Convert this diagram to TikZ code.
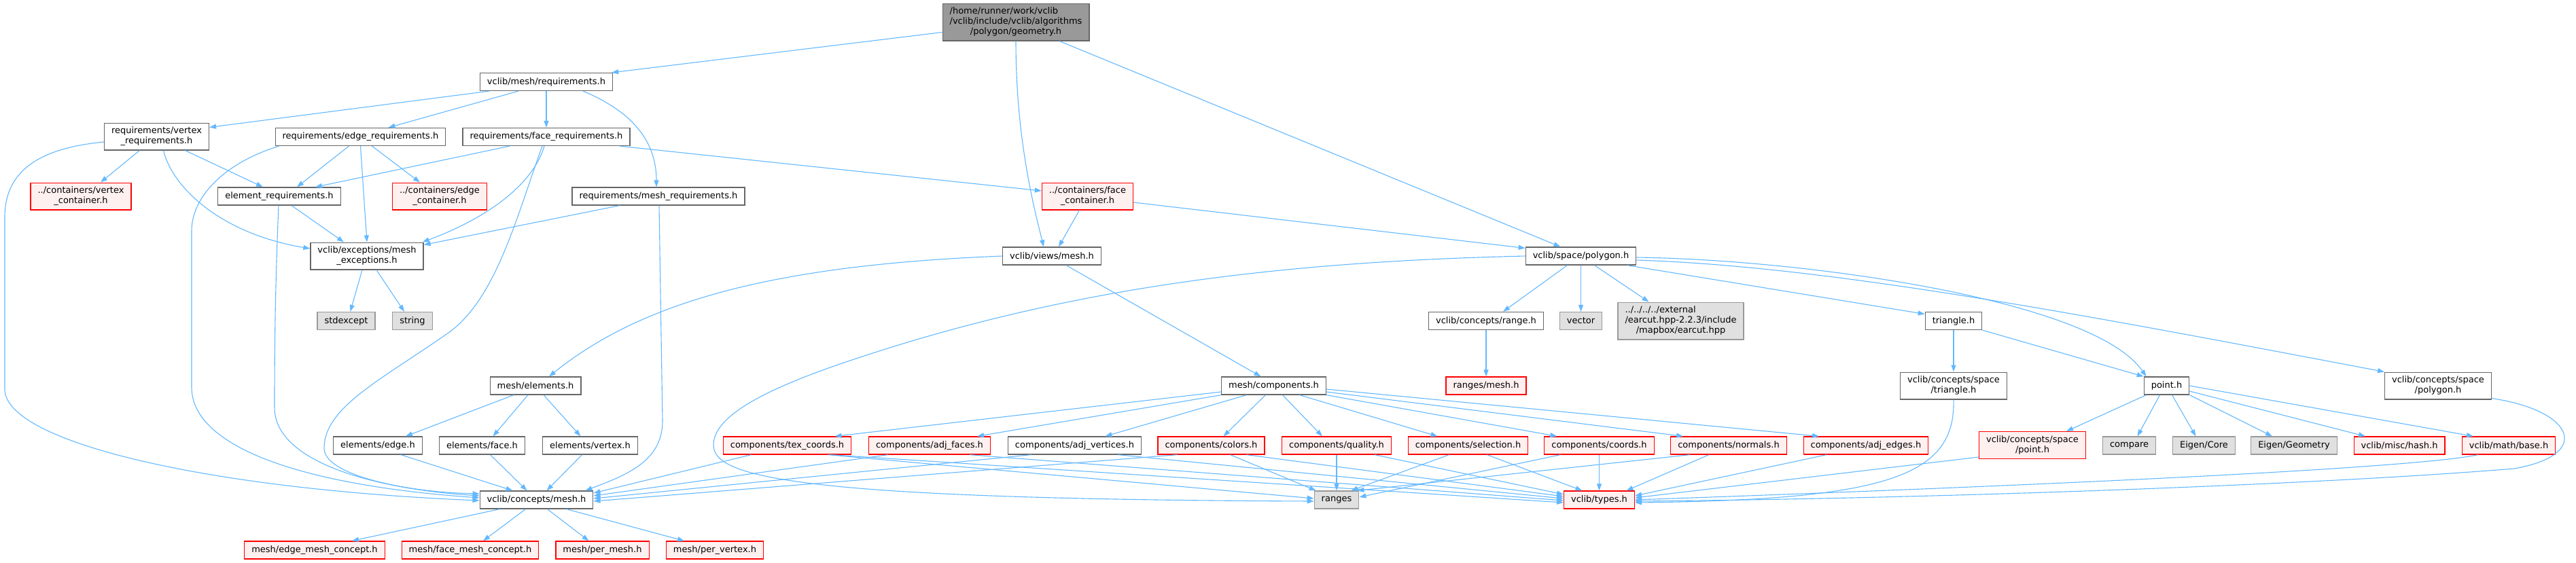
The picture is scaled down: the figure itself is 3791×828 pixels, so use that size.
\documentclass[tikz,border=0pt]{standalone}
\usepackage{fontspec}
\setmainfont{DejaVu Sans}
\usepackage{xcolor}
\usepackage{tikz}
\usetikzlibrary{arrows.meta}
\definecolor{incEdge}{HTML}{63B8FF}
\definecolor{incGrey}{HTML}{666666}
\definecolor{incRed}{HTML}{FF0000}
\definecolor{incRedFill}{HTML}{FFF0F0}
\definecolor{incSys}{HTML}{999999}
\definecolor{incSysFill}{HTML}{E0E0E0}
\definecolor{incRoot}{HTML}{999999}
\newcommand{\twoline}[2]{\begin{tabular}{@{}l@{}}#1\\\multicolumn{1}{@{}c@{}}{#2}\end{tabular}}
\newcommand{\threeline}[3]{\begin{tabular}{@{}l@{}}#1\\#2\\\multicolumn{1}{@{}c@{}}{#3}\end{tabular}}

\begin{document}
\begin{tikzpicture}[
  x=1pt,y=1pt,
  file/.style={rectangle,draw=incGrey,fill=white,line width=1.2pt,inner xsep=10.5pt,inner ysep=4.9pt,minimum height=26pt,align=center,font=\fontsize{13}{15}\selectfont},
  missing/.style={file,draw=incRed,fill=incRedFill},
  sysinc/.style={file,draw=incSys,fill=incSysFill},
  root/.style={file,fill=incRoot},
  inc/.style={-{Triangle[length=10pt,width=7pt]},draw=incEdge,line width=1.1pt}
]
\useasboundingbox (0,0) rectangle (3791,-828);
\node[root] (geom) at (1495,-32.5) {\threeline{/home/runner/work/vclib}{/vclib/include/vclib/algorithms}{/polygon/geometry.h}};
\node[file] (req) at (804,-120.5) {vclib/mesh/requirements.h};
\node[file] (vreq) at (230.5,-201) {\twoline{requirements/vertex}{\_requirements.h}};
\node[file] (ereq) at (530.5,-201.5) {requirements/edge\_requirements.h};
\node[file] (freq) at (804,-201.5) {requirements/face\_requirements.h};
\node[missing] (vcont) at (119,-289) {\twoline{../containers/vertex}{\_container.h}};
\node[file] (elreq) at (411,-289) {element\_requirements.h};
\node[missing] (econt) at (647,-289) {\twoline{../containers/edge}{\_container.h}};
\node[file] (mreq) at (969,-289) {requirements/mesh\_requirements.h};
\node[missing] (fcont) at (1600.5,-289) {\twoline{../containers/face}{\_container.h}};
\node[file] (exc) at (540,-377) {\twoline{vclib/exceptions/mesh}{\_exceptions.h}};
\node[file] (views) at (1548,-377) {vclib/views/mesh.h};
\node[file] (poly) at (2326.5,-377) {vclib/space/polygon.h};
\node[sysinc] (stdexc) at (509.5,-472.5) {stdexcept};
\node[sysinc] (str) at (607,-472.5) {string};
\node[file] (crange) at (2187,-472.5) {vclib/concepts/range.h};
\node[sysinc] (vec) at (2326.5,-472.5) {vector};
\node[sysinc] (earcut) at (2473.5,-472.5) {\threeline{../../../../external}{/earcut.hpp-2.2.3/include}{/mapbox/earcut.hpp}};
\node[file] (tri) at (2875,-472.5) {triangle.h};
\node[file] (elems) at (788,-568) {mesh/elements.h};
\node[file] (comps) at (1874.5,-568) {mesh/components.h};
\node[missing] (rmesh) at (2187,-568) {ranges/mesh.h};
\node[file] (cstri) at (2875,-568) {\twoline{vclib/concepts/space}{/triangle.h}};
\node[file] (pnt) at (3188.5,-568) {point.h};
\node[file] (cspoly) at (3588,-568) {\twoline{vclib/concepts/space}{/polygon.h}};
\node[file] (eedge) at (556,-656) {elements/edge.h};
\node[file] (eface) at (709.5,-656) {elements/face.h};
\node[file] (evert) at (868.5,-656) {elements/vertex.h};
\node[missing] (texc) at (1158.5,-656) {components/tex\_coords.h};
\node[missing] (adjf) at (1368,-656) {components/adj\_faces.h};
\node[file] (adjv) at (1581.5,-656) {components/adj\_vertices.h};
\node[missing] (colors) at (1782.5,-656) {components/colors.h};
\node[missing] (quality) at (1967,-656) {components/quality.h};
\node[missing] (select) at (2160.5,-656) {components/selection.h};
\node[missing] (coords) at (2353.5,-656) {components/coords.h};
\node[missing] (normals) at (2544,-656) {components/normals.h};
\node[missing] (adje) at (2746,-656) {components/adj\_edges.h};
\node[missing] (cspnt) at (2991,-655.5) {\twoline{vclib/concepts/space}{/point.h}};
\node[sysinc] (compare) at (3133.5,-656) {compare};
\node[sysinc] (ecore) at (3243.5,-656) {Eigen/Core};
\node[sysinc] (egeom) at (3376,-656) {Eigen/Geometry};
\node[missing] (hash) at (3531,-656) {vclib/misc/hash.h};
\node[missing] (mbase) at (3692,-656) {vclib/math/base.h};
\node[file] (cmesh) at (789.5,-736) {vclib/concepts/mesh.h};
\node[sysinc] (ranges) at (1967,-736) {ranges};
\node[missing] (types) at (2353.5,-736) {vclib/types.h};
\node[missing] (emc) at (463,-810) {mesh/edge\_mesh\_concept.h};
\node[missing] (fmc) at (692,-810) {mesh/face\_mesh\_concept.h};
\node[missing] (pmesh) at (886.5,-810) {mesh/per\_mesh.h};
\node[missing] (pvert) at (1052,-810) {mesh/per\_vertex.h};

\draw[inc] ([yshift=-15]geom.west) -- ([xshift=-2]req.north east);
\draw[inc] (geom.south) .. controls (1495,-200) and (1520,-300) .. ([xshift=-12]views.north);
\draw[inc] ([xshift=64]geom.south) -- ([xshift=-30]poly.north);
\draw[inc] ([xshift=-84]req.south) -- ([yshift=-7]vreq.north east);
\draw[inc] ([xshift=-41]req.south) -- ([xshift=41]ereq.north);
\draw[inc] (req) -- (freq);
\draw[inc] ([xshift=54]req.south) .. controls (920,-160) and (966,-200) .. ([xshift=-3]mreq.north);
\draw[inc] ([xshift=-25]vreq.south) -- ([xshift=29]vcont.north);
\draw[inc] ([xshift=42]vreq.south) -- ([xshift=-24]elreq.north);
\draw[inc] ([xshift=10]vreq.south) .. controls (255,-280) and (330,-345) .. ([yshift=11]exc.west);
\draw[inc] ([yshift=-8]vreq.west) .. controls (60,-218) and (7,-250) .. (7,-320) -- (7,-573) .. controls (7,-650) and (300,-720) .. ([yshift=-1]cmesh.west);
\draw[inc] ([xshift=-17]ereq.south) -- ([xshift=26]elreq.north);
\draw[inc] ([xshift=17]ereq.south) -- ([xshift=-29]econt.north);
\draw[inc] (ereq.south) -- (exc.north);
\draw[inc] ([xshift=-120]ereq.south) .. controls (330,-240) and (282,-290) .. (282,-340) -- (282,-570) .. controls (282,-660) and (450,-715) .. ([yshift=3]cmesh.west);
\draw[inc] ([xshift=-54]freq.south) -- ([xshift=53]elreq.north);
\draw[inc] ([xshift=-3]freq.south) .. controls (785,-270) and (720,-320) .. ([xshift=-2]exc.north east);
\draw[inc] ([xshift=-6]freq.south) .. controls (760,-320) and (730,-440) .. (660,-490) .. controls (560,-560) and (477,-600) .. (477,-660) .. controls (477,-700) and (600,-725) .. ([yshift=9]cmesh.west);
\draw[inc] ([xshift=108]freq.south) -- ([yshift=8]fcont.west);
\draw[inc] ([xshift=18]elreq.south) -- ([xshift=-34]exc.north);
\draw[inc] ([xshift=-1]elreq.south) .. controls (406,-400) and (404,-480) .. (404,-600) .. controls (404,-680) and (550,-720) .. ([yshift=6]cmesh.west);
\draw[inc] ([xshift=-57]mreq.south) -- ([yshift=-4]exc.north east);
\draw[inc] ([xshift=1]mreq.south) -- (975,-620) .. controls (975,-680) and (920,-700) .. ([xshift=-12]cmesh.north east);
\draw[inc] ([xshift=-7]exc.south) -- ([xshift=6]stdexc.north);
\draw[inc] ([xshift=14]exc.south) -- ([xshift=-12]str.north);
\draw[inc] ([xshift=-12]fcont.south) -- ([xshift=10]views.north);
\draw[inc] ([yshift=-9]fcont.east) -- ([yshift=-2]poly.north west);
\draw[inc] (views.west) .. controls (1150,-390) and (950,-440) .. ([xshift=20]elems.north);
\draw[inc] ([xshift=21]views.south) -- ([xshift=-19]comps.north);
\draw[inc] (poly.west) .. controls (1900,-385) and (1600,-420) .. (1300,-515) .. controls (1180,-553) and (1050,-600) .. (1050,-655) .. controls (1050,-700) and (1150,-735) .. ([yshift=-2]ranges.west);
\draw[inc] ([xshift=-20]poly.south) -- ([xshift=25]crange.north);
\draw[inc] (poly.south) -- (vec.north);
\draw[inc] ([xshift=20]poly.south) -- ([xshift=-47]earcut.north);
\draw[inc] ([xshift=68]poly.south) -- ([yshift=10]tri.west);
\draw[inc] ([yshift=-2]poly.east) .. controls (2650,-382) and (3080,-440) .. ([xshift=-30]pnt.north);
\draw[inc] ([yshift=-6]poly.east) .. controls (2700,-392) and (3100,-470) .. (cspoly.north west);
\draw[inc] (crange) -- (rmesh);
\draw[inc] (tri) -- (cstri);
\draw[inc] (tri.south east) -- (pnt.north west);
\draw[inc] (cstri.south) .. controls (2878,-700) and (2780,-736) .. ([yshift=-4]types.east);
\draw[inc] ([xshift=-30]pnt.south) -- ([xshift=50]cspnt.north);
\draw[inc] ([xshift=-10]pnt.south) -- ([xshift=12]compare.north);
\draw[inc] ([xshift=8]pnt.south) -- ([xshift=-12]ecore.north);
\draw[inc] (pnt.south east) -- ([xshift=-32]egeom.north);
\draw[inc] ([yshift=-8]pnt.east) -- ([xshift=-50]hash.north);
\draw[inc] (pnt.east) -- ([xshift=-52]mbase.north);
\draw[inc] ([yshift=3]cspnt.south west) -- ([yshift=3]types.east);
\draw[inc] ([xshift=-45]mbase.south) .. controls (3550,-690) and (3000,-715) .. ([yshift=0]types.east);
\draw[inc] ([yshift=2]cspoly.south east) .. controls (3790,-605) and (3815,-670) .. (3700,-690) .. controls (3400,-715) and (2800,-735) .. ([yshift=-2]types.east);
\draw[inc] ([xshift=-58]adje.south) -- ([yshift=6]types.east);
\draw[inc] ([xshift=-29]normals.south) -- ([xshift=40]types.north);
\draw[inc] ([xshift=-57]normals.south) -- ([xshift=-3]ranges.north east);
\draw[inc] ([xshift=-57]coords.south) -- ([yshift=4]ranges.east);
\draw[inc] (coords) -- (types);
\draw[inc] ([xshift=-28]select.south) -- ([xshift=-12]ranges.north east);
\draw[inc] ([xshift=28]select.south) -- ([xshift=-25]types.north);
\draw[inc] (quality) -- (ranges);
\draw[inc] ([xshift=56]quality.south) -- ([yshift=8]types.west);
\draw[inc] ([xshift=28]colors.south) -- ([xshift=3]ranges.north west);
\draw[inc] ([xshift=52]colors.south) -- ([yshift=5]types.west);
\draw[inc] ([xshift=-50]colors.south) -- ([yshift=-2]cmesh.east);
\draw[inc] ([xshift=-64]adjv.south) -- ([yshift=2]cmesh.east);
\draw[inc] ([xshift=64]adjv.south) -- ([yshift=2]types.west);
\draw[inc] ([xshift=-61]adjf.south) -- ([yshift=6]cmesh.east);
\draw[inc] ([xshift=59]adjf.south) -- ([yshift=-1]types.west);
\draw[inc] ([xshift=-53]texc.south) -- ([yshift=10]cmesh.east);
\draw[inc] ([xshift=60]texc.south) -- ([yshift=2]ranges.west);
\draw[inc] ([xshift=64]texc.south) -- ([yshift=-4]types.west);
\draw[inc] ([yshift=-9]comps.west) -- ([xshift=70]texc.north);
\draw[inc] (comps.south west) -- ([xshift=70]adjf.north);
\draw[inc] ([xshift=-40]comps.south) -- ([xshift=45]adjv.north);
\draw[inc] ([xshift=-12]comps.south) -- ([xshift=18]colors.north);
\draw[inc] ([xshift=13]comps.south) -- ([xshift=-21]quality.north);
\draw[inc] ([xshift=38]comps.south) -- ([xshift=-45]select.north);
\draw[inc] (comps.south east) -- ([xshift=-62]coords.north);
\draw[inc] ([yshift=-9]comps.east) -- ([xshift=-67]normals.north);
\draw[inc] ([yshift=-5]comps.east) -- ([xshift=-69]adje.north);
\draw[inc] ([xshift=-32]elems.south) -- ([xshift=41]eedge.north);
\draw[inc] ([xshift=-11]elems.south) -- ([xshift=16]eface.north);
\draw[inc] ([xshift=12]elems.south) -- ([xshift=-14]evert.north);
\draw[inc] ([xshift=34]eedge.south) -- ([xshift=-35]cmesh.north);
\draw[inc] ([xshift=12]eface.south) -- ([xshift=-14]cmesh.north);
\draw[inc] ([xshift=-12]evert.south) -- ([xshift=15]cmesh.north);
\draw[inc] ([xshift=-54]cmesh.south) -- ([xshift=55]emc.north);
\draw[inc] ([xshift=-16]cmesh.south) -- ([xshift=19]fmc.north);
\draw[inc] ([xshift=16]cmesh.south) -- ([xshift=-20]pmesh.north);
\draw[inc] ([xshift=44]cmesh.south) -- ([xshift=-45]pvert.north);
\end{tikzpicture}
\end{document}
